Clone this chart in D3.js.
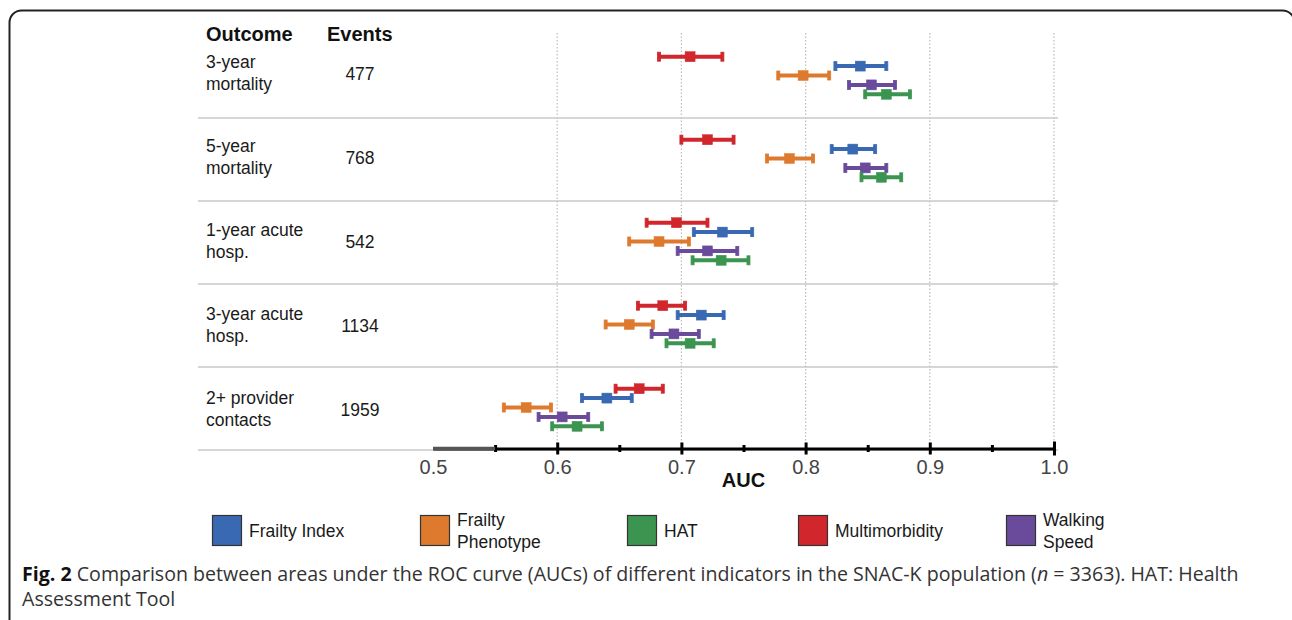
<!DOCTYPE html>
<html>
<head>
<meta charset="utf-8">
<script src="https://cdn.jsdelivr.net/npm/d3@7"></script>
<style>
  body { margin: 0; background: #fff; }
  svg { display: block; }
</style>
</head>
<body>
<div id="chart"></div>
<script>
// outcomes (rows) and number of events
const outcomes = ["3-year\nmortality", "5-year\nmortality", "1-year acute\nhosp.", "3-year acute\nhosp.", "2+ provider\ncontacts"];
const events = [477, 768, 542, 1134, 1959];

// drawing order inside each row block, top to bottom
const indicators = ["Multimorbidity", "Frailty Index", "Frailty Phenotype", "Walking Speed", "HAT"];
// legend order
const legendOrder = ["Frailty Index", "Frailty Phenotype", "HAT", "Multimorbidity", "Walking Speed"];
const colors = ["#d0262c", "#3a69b3", "#de7a2e", "#6a4b9b", "#3b9550"];

// [lower CI, AUC, upper CI] per outcome
const multimorbidity = [[0.682, 0.707, 0.733], [0.700, 0.721, 0.742], [0.672, 0.696, 0.721], [0.665, 0.685, 0.703], [0.647, 0.666, 0.685]];
const frailtyIndex = [[0.824, 0.844, 0.865], [0.821, 0.838, 0.856], [0.710, 0.733, 0.757], [0.697, 0.716, 0.734], [0.620, 0.640, 0.660]];
const frailtyPhenotype = [[0.778, 0.798, 0.819], [0.769, 0.787, 0.806], [0.658, 0.682, 0.706], [0.639, 0.658, 0.677], [0.557, 0.575, 0.595]];
const walkingSpeed = [[0.835, 0.853, 0.872], [0.832, 0.848, 0.865], [0.697, 0.721, 0.745], [0.676, 0.694, 0.714], [0.585, 0.604, 0.625]];
const hat = [[0.848, 0.865, 0.884], [0.845, 0.861, 0.877], [0.709, 0.732, 0.754], [0.688, 0.707, 0.726], [0.596, 0.616, 0.636]];

const tickLabels = [0.5, 0.6, 0.7, 0.8, 0.9, 1.0];
const minorTicks = [0.55, 0.65, 0.75, 0.85, 0.95];

const seriesValues = [multimorbidity, frailtyIndex, frailtyPhenotype, walkingSpeed, hat];

const width = 1292, height = 620;
const font = "'Liberation Sans', Arial, sans-serif";

const svg = d3.select("#chart").append("svg")
    .attr("width", width)
    .attr("height", height);

// page frame
svg.append("rect")
    .attr("x", 9.5).attr("y", 10.5)
    .attr("width", 1285).attr("height", 700)
    .attr("rx", 12)
    .attr("fill", "none")
    .attr("stroke", "#222")
    .attr("stroke-width", 2);

// scales
const x = d3.scaleLinear().domain([0.5, 1.0]).range([433, 1054]);
const y = d3.scaleBand().domain(outcomes).range([35, 450]);
// text column sits on a slightly wider step than the bars
const yText = d3.scaleBand().domain(outcomes).range([35, 455]);
const yInner = d3.scalePoint().domain(indicators).range([-18.8, 18.8]);
const color = d3.scaleOrdinal().domain(indicators).range(colors);

// dotted gridlines
svg.append("g").selectAll("line")
    .data(tickLabels.slice(1))
  .enter().append("line")
    .attr("x1", d => x(d)).attr("x2", d => x(d))
    .attr("y1", 33).attr("y2", 447)
    .attr("stroke", "#bbb")
    .attr("stroke-width", 1.2)
    .attr("stroke-dasharray", "1.5,2");

// row separators
svg.append("g").selectAll("line")
    .data(outcomes)
  .enter().append("line")
    .attr("x1", 198).attr("x2", 1058)
    .attr("y1", d => y(d) + y.bandwidth())
    .attr("y2", d => y(d) + y.bandwidth())
    .attr("stroke", "#c8c8c8")
    .attr("stroke-width", 1.5);

// headers
svg.append("text").attr("x", 206).attr("y", 41)
    .attr("font-family", font).attr("font-size", 20).attr("font-weight", "bold")
    .attr("fill", "#111").text("Outcome");
svg.append("text").attr("x", 327).attr("y", 41)
    .attr("font-family", font).attr("font-size", 20).attr("font-weight", "bold")
    .attr("fill", "#111").text("Events");

// outcome labels
const rowLabels = svg.append("g").selectAll("text")
    .data(outcomes)
  .enter().append("text")
    .attr("font-family", font).attr("font-size", 17.5)
    .attr("fill", "#1a1a1a");
rowLabels.selectAll("tspan")
    .data(d => d.split("\n").map(t => ({t: t, d: d})))
  .enter().append("tspan")
    .attr("x", 206)
    .attr("y", (p, i) => yText(p.d) + yText.bandwidth() / 2 - 9 + i * 22)
    .text(p => p.t);

// events column
svg.append("g").selectAll("text")
    .data(events)
  .enter().append("text")
    .attr("x", 360)
    .attr("y", (d, i) => yText(outcomes[i]) + yText.bandwidth() / 2 + 2.5)
    .attr("text-anchor", "middle")
    .attr("font-family", font).attr("font-size", 17.5)
    .attr("fill", "#1a1a1a")
    .text(d => d);

// axis
const axisY = 448.5;
const axis = svg.append("g")
    .attr("transform", "translate(0," + axisY + ")")
    .call(d3.axisBottom(x).tickValues(tickLabels).tickFormat(d3.format(".1f")).tickSizeOuter(0));
axis.select(".domain").attr("stroke", "#000").attr("stroke-width", 3);
axis.selectAll(".tick line")
    .attr("y1", -6).attr("y2", 6)
    .attr("stroke", "#000").attr("stroke-width", 3)
    .attr("display", d => d === 0.5 ? "none" : null);
axis.selectAll(".tick text")
    .attr("y", 11)
    .attr("font-family", font).attr("font-size", 20)
    .attr("fill", "#444");
axis.selectAll(".tick").filter(d => d === 1.0).select("line").attr("y1", -7).attr("y2", 7);

const minor = svg.append("g")
    .attr("transform", "translate(0," + axisY + ")")
    .call(d3.axisBottom(x).tickValues(minorTicks).tickFormat("").tickSizeOuter(0));
minor.select(".domain").remove();
minor.selectAll(".tick line")
    .attr("y1", -3.5).attr("y2", 3.5)
    .attr("stroke", "#000").attr("stroke-width", 3);

// grey start of the axis line
svg.append("line")
    .attr("x1", x(0.5)).attr("x2", x(0.55))
    .attr("y1", axisY).attr("y2", axisY)
    .attr("stroke", "#555").attr("stroke-width", 3.5);

svg.append("text")
    .attr("x", x(0.75)).attr("y", 487)
    .attr("text-anchor", "middle")
    .attr("font-family", font).attr("font-size", 20).attr("font-weight", "bold")
    .attr("fill", "#111").text("AUC");

// error bars
const points = [];
seriesValues.forEach((vals, s) => {
  vals.forEach((v, o) => {
    points.push({ind: indicators[s], outcome: outcomes[o], lo: v[0], auc: v[1], hi: v[2]});
  });
});

const bars = svg.append("g").selectAll("g")
    .data(points)
  .enter().append("g")
    .attr("transform", d => "translate(0," + (y(d.outcome) + y.bandwidth() / 2 - 1 + yInner(d.ind)) + ")")
    .attr("fill", d => color(d.ind))
    .attr("stroke", d => color(d.ind));

bars.append("line")
    .attr("x1", d => x(d.lo)).attr("x2", d => x(d.hi))
    .attr("y1", 0).attr("y2", 0)
    .attr("stroke-width", 4);
bars.append("rect")
    .attr("x", d => x(d.lo) - 1.5).attr("y", -4.5)
    .attr("width", 3).attr("height", 9)
    .attr("stroke-width", 0.8);
bars.append("rect")
    .attr("x", d => x(d.hi) - 1.5).attr("y", -4.5)
    .attr("width", 3).attr("height", 9)
    .attr("stroke-width", 0.8);
bars.append("rect")
    .attr("x", d => x(d.auc) - 5).attr("y", -5)
    .attr("width", 10).attr("height", 10)
    .attr("stroke-width", 0.5);

// legend
const legendX = [212, 420, 627, 798, 1006];
const legend = svg.append("g").selectAll("g")
    .data(legendOrder)
  .enter().append("g")
    .attr("transform", (d, i) => "translate(" + legendX[i] + ",515)");
legend.append("rect")
    .attr("x", 0.5).attr("y", 0.5)
    .attr("width", 29).attr("height", 30)
    .attr("fill", d => color(d))
    .attr("stroke", "#333").attr("stroke-width", 1.2);
const legendText = legend.append("text")
    .attr("font-family", font).attr("font-size", 17.5)
    .attr("fill", "#1a1a1a");
legendText.selectAll("tspan")
    .data(d => {
      const words = d.split(" ");
      return d === "Frailty Index" ? [d] : (words.length > 1 ? words : [d]);
    })
  .enter().append("tspan")
    .attr("x", 37)
    .attr("y", function(t, i) {
      const n = d3.select(this.parentNode).datum();
      const multi = n !== "Frailty Index" && n.split(" ").length > 1;
      return multi ? 11 + i * 22 : 22;
    })
    .text(t => t);

// caption
const capFont = "'Open Sans', 'Noto Sans', sans-serif";
const cap1 = svg.append("text")
    .attr("x", 22).attr("y", 581)
    .attr("font-family", capFont).attr("font-size", 19.6)
    .attr("fill", "#333");
cap1.append("tspan").attr("font-weight", "bold").attr("fill", "#111").text("Fig. 2");
cap1.append("tspan").text(" Comparison between areas under the ROC curve (AUCs) of different indicators in the SNAC-K population (");
cap1.append("tspan").attr("font-style", "italic").text("n");
cap1.append("tspan").text(" = 3363). HAT: Health");
svg.append("text")
    .attr("x", 22).attr("y", 606)
    .attr("font-family", capFont).attr("font-size", 19.6)
    .attr("fill", "#333")
    .text("Assessment Tool");
</script>
</body>
</html>
